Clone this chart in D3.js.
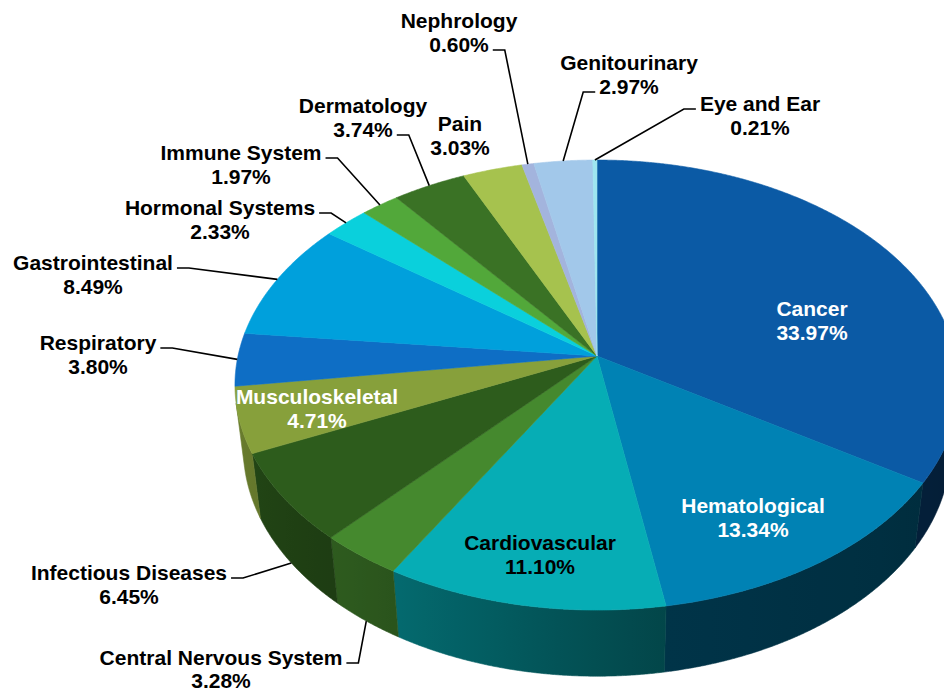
<!DOCTYPE html>
<html>
<head>
<meta charset="utf-8">
<script src="https://cdn.jsdelivr.net/npm/d3@7"></script>
<style>
    html, body { margin: 0; padding: 0; background: #fff; }
    #chart { width: 944px; height: 692px; }
    text { font-family: "Liberation Sans", Arial, sans-serif; font-weight: bold; font-size: 21px; }
</style>
</head>
<body>
<div id="chart"></div>
<script>
// Data
const categories = ['Cancer', 'Hematological', 'Cardiovascular', 'Central Nervous System',
    'Infectious Diseases', 'Musculoskeletal', 'Respiratory', 'Gastrointestinal',
    'Hormonal Systems', 'Immune System', 'Dermatology', 'Pain', 'Nephrology',
    'Genitourinary', 'Eye and Ear'];
const shares = [33.97, 13.34, 11.10, 3.28, 6.45, 4.71, 3.80, 8.49, 2.33, 1.97, 3.74, 3.03, 0.60, 2.97, 0.21];
const palette = ['#0b5aa5', '#0082b4', '#06adb5', '#45892e', '#2d5c1c', '#87a03b', '#0e6ec5',
    '#00a0dc', '#0ad0dc', '#52a83a', '#3a7225', '#a6c24e', '#a3b4dd', '#a2c8ea', '#9ee6f0'];

// Label layout: text centre x, first baseline y, colour,
// leader = [line index, side, anchor on top rim or bottom rim]
const labelLayout = {
    'Cancer':                 { x: 812, y: 316, fill: '#fff' },
    'Hematological':          { x: 753, y: 513, fill: '#fff' },
    'Cardiovascular':         { x: 540, y: 550, fill: '#000' },
    'Musculoskeletal':        { x: 317, y: 404, fill: '#fff' },
    'Central Nervous System': { x: 221, y: 665, fill: '#000', gap: 23, leader: [0, 'right', 'bottom'] },
    'Infectious Diseases':    { x: 129, y: 580, fill: '#000', leader: [0, 'right', 'bottom'] },
    'Respiratory':            { x: 98,  y: 350, fill: '#000', leader: [0, 'right', 'top'] },
    'Gastrointestinal':       { x: 93,  y: 270, fill: '#000', leader: [0, 'right', 'top'] },
    'Hormonal Systems':       { x: 220, y: 215, fill: '#000', leader: [0, 'right', 'top'] },
    'Immune System':          { x: 241, y: 160, fill: '#000', leader: [0, 'right', 'top'] },
    'Dermatology':            { x: 363, y: 113, fill: '#000', leader: [1, 'right', 'top'] },
    'Pain':                   { x: 460, y: 131, fill: '#000' },
    'Nephrology':             { x: 459, y: 28,  fill: '#000', leader: [1, 'right', 'top'] },
    'Genitourinary':          { x: 629, y: 70,  fill: '#000', leader: [1, 'left', 'top'] },
    'Eye and Ear':            { x: 760, y: 111, fill: '#000', leader: [0, 'left', 'top'] }
};

const width = 944, height = 692;
const lineGap = 24;

// Perspective view of the pie
const cx = 597, cy = 356;
const focal = 2190, dist = 6.1;
const tilt = 38.05 * Math.PI / 180;
const thick = 0.23;

function project(theta, r, z) {
    const X = r * Math.sin(theta);
    const Y = -r * Math.cos(theta);
    const w = dist - Y * Math.cos(tilt) - z * Math.sin(tilt);
    return [cx + focal * X / w, cy + focal * (Y * Math.sin(tilt) - z * Math.cos(tilt)) / w];
}

function arcPoints(a0, a1, z) {
    const n = Math.max(2, Math.ceil((a1 - a0) / (0.25 * Math.PI / 180)));
    return d3.range(n + 1).map(i => project(a0 + (a1 - a0) * i / n, 1, z));
}

const svg = d3.select('#chart').append('svg')
    .attr('width', width)
    .attr('height', height);
const defs = svg.append('defs');

const pie = d3.pie().sort(null).value(d => d);
const arcs = pie(shares);

// side wall shading, by angle in degrees
const shade = d3.scaleLinear().domain([100, 170, 215, 260]).range([0.32, 0.4, 0.64, 0.8]).clamp(true);
function shaded(c, deg) {
    const col = d3.rgb(c), f = shade(deg);
    return d3.rgb(col.r * f, col.g * f, col.b * f).formatHex();
}

// visible part of the outer wall
const cVis = 1 / (dist * Math.cos(tilt));
const visMin = Math.acos(-cVis), visMax = 2 * Math.PI - visMin;

const line = d3.line();
const walls = svg.append('g').attr('class', 'walls');
arcs.forEach((a, i) => {
    const a0 = Math.max(a.startAngle, visMin), a1 = Math.min(a.endAngle, visMax);
    if (a1 <= a0) return;
    const top = arcPoints(a0, a1, 0);
    const bottom = arcPoints(a0, a1, -thick).reverse();
    const xa = top[0][0], xb = top[top.length - 1][0];
    const grad = defs.append('linearGradient')
        .attr('id', 'wall' + i)
        .attr('gradientUnits', 'userSpaceOnUse')
        .attr('x1', xa).attr('x2', xb).attr('y1', 0).attr('y2', 0);
    d3.range(9).forEach(k => {
        const th = a0 + (a1 - a0) * k / 8;
        const px = project(th, 1, 0)[0];
        grad.append('stop')
            .attr('offset', xb === xa ? 0 : (px - xa) / (xb - xa))
            .attr('stop-color', shaded(palette[i], th * 180 / Math.PI));
    });
    walls.append('path')
        .attr('d', line(top.concat(bottom)) + 'Z')
        .attr('fill', `url(#wall${i})`)
        .attr('stroke', `url(#wall${i})`)
        .attr('stroke-width', 0.6);
});

// top faces
const centre = project(0, 0, 0);
svg.append('g').attr('class', 'slices')
    .selectAll('path')
    .data(arcs)
    .join('path')
    .attr('d', a => line([centre].concat(arcPoints(a.startAngle, a.endAngle, 0))) + 'Z')
    .attr('fill', (a, i) => palette[i])
    .attr('stroke', (a, i) => palette[i])
    .attr('stroke-width', 0.6);

// labels and leader lines
const labels = svg.append('g').attr('class', 'labels');
arcs.forEach((a, i) => {
    const name = categories[i];
    const lay = labelLayout[name];
    const gap = lay.gap || lineGap;
    const lines = [name, shares[i].toFixed(2) + '%'];
    const nodes = lines.map((s, j) => labels.append('text')
        .attr('x', lay.x)
        .attr('y', lay.y + j * gap)
        .attr('text-anchor', 'middle')
        .attr('fill', lay.fill)
        .text(s));
    if (!lay.leader) return;
    const [li, side, rimAt] = lay.leader;
    const tw = nodes[li].node().getComputedTextLength();
    const ly = lay.y + li * gap - 2;
    const x0 = side === 'right' ? lay.x + tw / 2 + 4 : lay.x - tw / 2 - 4;
    const x1 = side === 'right' ? x0 + 12 : x0 - 12;
    const rim = project((a.startAngle + a.endAngle) / 2, 1, rimAt === 'bottom' ? -thick : 0);
    labels.append('path')
        .attr('d', line([[x0, ly], [x1, ly], rim]))
        .attr('fill', 'none')
        .attr('stroke', '#000')
        .attr('stroke-width', 1.6);
});
</script>
</body>
</html>
